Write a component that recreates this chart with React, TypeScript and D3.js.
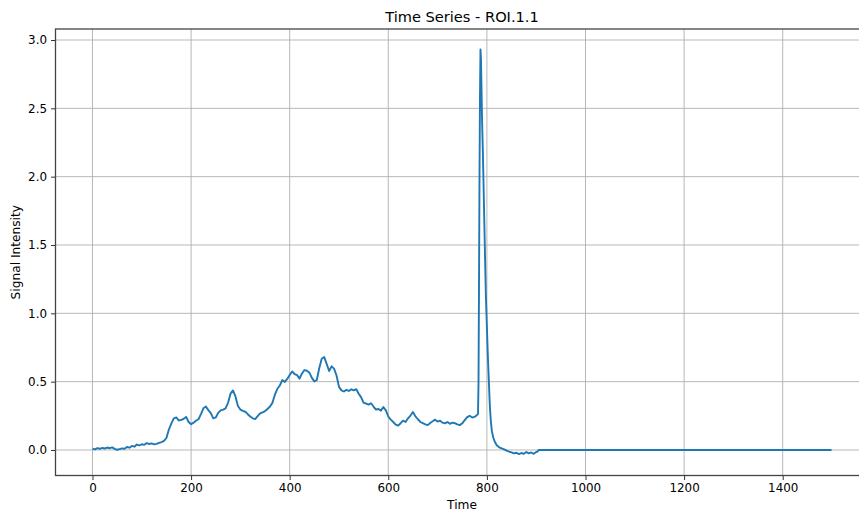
import React, { useEffect, useRef } from "react";
import * as d3 from "d3";

// signal before the spike, sampled every 5 time units from t = 0
const BASE_STEP = 5;
const baseSignal = [
  0.010, 0.004, 0.014, 0.009, 0.016, 0.011, 0.018, 0.013, 0.019, 0.008,
  0.002, 0.007, 0.012, 0.009, 0.022, 0.017, 0.030, 0.024, 0.040, 0.033,
  0.042, 0.038, 0.050, 0.044, 0.048, 0.041, 0.045, 0.052, 0.058, 0.066,
  0.088, 0.150, 0.195, 0.232, 0.238, 0.216, 0.220, 0.228, 0.242, 0.205,
  0.188, 0.200, 0.214, 0.225, 0.262, 0.305, 0.318, 0.292, 0.270, 0.232,
  0.238, 0.272, 0.290, 0.296, 0.305, 0.345, 0.412, 0.436, 0.392, 0.322,
  0.296, 0.286, 0.280, 0.262, 0.245, 0.232, 0.226, 0.248, 0.268, 0.276,
  0.285, 0.300, 0.318, 0.345, 0.405, 0.448, 0.472, 0.512, 0.498, 0.520,
  0.548, 0.575, 0.556, 0.548, 0.522, 0.560, 0.585, 0.580, 0.566, 0.528,
  0.502, 0.512, 0.600, 0.668, 0.680, 0.630, 0.578, 0.612, 0.595, 0.545,
  0.462, 0.436, 0.428, 0.440, 0.432, 0.444, 0.436, 0.445, 0.412, 0.385,
  0.345, 0.340, 0.332, 0.342, 0.318, 0.296, 0.300, 0.288, 0.315, 0.290,
  0.245, 0.222, 0.205, 0.186, 0.178, 0.196, 0.215, 0.205, 0.232, 0.252,
  0.278, 0.246, 0.225, 0.205, 0.196, 0.188, 0.182, 0.198, 0.210, 0.222,
  0.208, 0.215, 0.200, 0.195, 0.205, 0.192, 0.200, 0.196, 0.188, 0.182,
  0.195, 0.218, 0.240, 0.250, 0.238, 0.242, 0.256,
];

// spike and recovery, [time, value]
const spikeSignal: [number, number][] = [
  [782, 0.265], [783, 0.5], [784, 1.2], [785, 2.0], [786, 2.6], [787, 2.93],
  [788, 2.86], [789, 2.66], [790, 2.45], [791, 2.3], [792, 2.15], [794, 1.8],
  [796, 1.45], [798, 1.12], [800, 0.9], [802, 0.68], [804, 0.5], [806, 0.32],
  [808, 0.21], [810, 0.14], [813, 0.09], [816, 0.06], [820, 0.035], [825, 0.02],
  [830, 0.012], [835, 0.005], [840, -0.005], [845, -0.012], [850, -0.018],
  [855, -0.025], [860, -0.02], [865, -0.03], [870, -0.022], [875, -0.028],
  [880, -0.015], [885, -0.025], [890, -0.018], [895, -0.028], [900, -0.015],
  [903, -0.01],
];

// flat tail
const tailSignal: [number, number][] = [[905, 0], [1499, 0]];

const xTicks = [0, 200, 400, 600, 800, 1000, 1200, 1400];
const yTicks = [0.0, 0.5, 1.0, 1.5, 2.0, 2.5, 3.0];

export default function App() {
  const ref = useRef<SVGSVGElement>(null);

  useEffect(() => {
    const width = 859;
    const height = 514;
    const left = 55.5, right = 868.5, top = 29, bottom = 475.5;
    const font = "'DejaVu Sans', sans-serif";

    const svg = d3.select(ref.current).attr("width", width).attr("height", height);
    svg.selectAll("*").remove();

    const data: [number, number][] = baseSignal
      .map((v, i) => [i * BASE_STEP, v] as [number, number])
      .concat(spikeSignal, tailSignal);

    const xScale = d3.scaleLinear().domain([-75, 1574]).range([left, right]);
    const yScale = d3.scaleLinear().domain([-0.1866, 3.0805]).range([bottom, top]);

    svg.append("rect").attr("width", width).attr("height", height).attr("fill", "white");

    svg.append("clipPath").attr("id", "plot-clip")
      .append("rect").attr("x", left).attr("y", top)
      .attr("width", right - left).attr("height", bottom - top);

    // grid
    const grid = svg.append("g").attr("stroke", "#b0b0b0").attr("stroke-width", 0.9);
    grid.selectAll(".vgrid").data(xTicks).join("line").attr("class", "vgrid")
      .attr("x1", d => xScale(d)).attr("x2", d => xScale(d))
      .attr("y1", top).attr("y2", bottom);
    grid.selectAll(".hgrid").data(yTicks).join("line").attr("class", "hgrid")
      .attr("x1", left).attr("x2", right)
      .attr("y1", d => yScale(d)).attr("y2", d => yScale(d));

    // the series
    const line = d3.line<[number, number]>().x(d => xScale(d[0])).y(d => yScale(d[1]));
    svg.append("path").datum(data)
      .attr("clip-path", "url(#plot-clip)")
      .attr("fill", "none").attr("stroke", "#1f77b4")
      .attr("stroke-width", 1.9).attr("stroke-linejoin", "round")
      .attr("d", line);

    // axes
    const xAxis = d3.axisBottom(xScale).tickValues(xTicks).tickSize(4.5).tickPadding(4)
      .tickFormat(d3.format("d"));
    const yAxis = d3.axisLeft(yScale).tickValues(yTicks).tickSize(4.5).tickPadding(4)
      .tickFormat(d3.format(".1f"));

    const gx = svg.append("g").attr("transform", `translate(0, ${bottom})`).call(xAxis);
    const gy = svg.append("g").attr("transform", `translate(${left}, 0)`).call(yAxis);
    [gx, gy].forEach(g => {
      g.select(".domain").remove();
      g.selectAll(".tick line").attr("stroke", "#333").attr("stroke-width", 1);
      g.selectAll(".tick text").attr("fill", "#000")
        .style("font-family", font).style("font-size", "11.9px");
    });

    // frame
    svg.append("rect").attr("x", left).attr("y", top)
      .attr("width", right - left).attr("height", bottom - top)
      .attr("fill", "none").attr("stroke", "#444").attr("stroke-width", 1.3);

    // labels
    svg.append("text")
      .attr("x", (left + right) / 2).attr("y", 22)
      .attr("text-anchor", "middle")
      .style("font-family", font).style("font-size", "14.6px")
      .text("Time Series - ROI.1.1");

    svg.append("text")
      .attr("x", (left + right) / 2).attr("y", 509)
      .attr("text-anchor", "middle")
      .style("font-family", font).style("font-size", "12.2px")
      .text("Time");

    svg.append("text")
      .attr("transform", "rotate(-90)")
      .attr("x", -(top + bottom) / 2).attr("y", 20)
      .attr("text-anchor", "middle")
      .style("font-family", font).style("font-size", "12.2px")
      .text("Signal Intensity");
  }, []);

  return (
    <div style={{ position: "absolute", left: 0, top: 0 }}>
      <svg ref={ref} style={{ display: "block" }} />
    </div>
  );
}
